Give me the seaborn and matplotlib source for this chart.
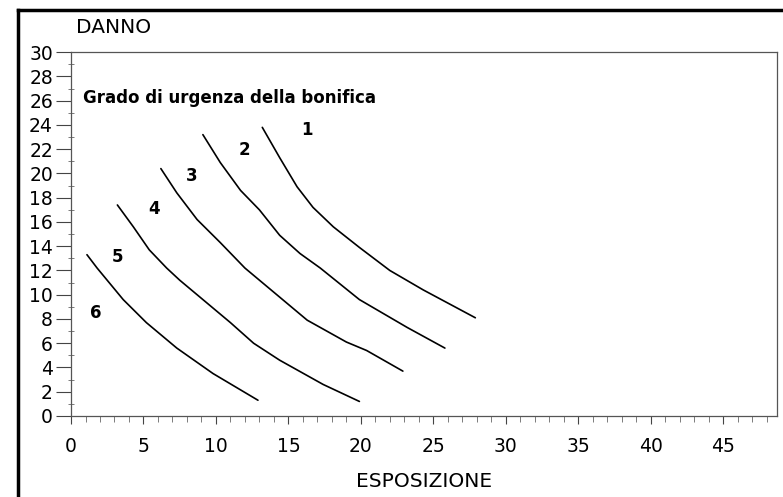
import pandas as pd
import matplotlib.pyplot as plt
import seaborn as sns
from matplotlib.ticker import MultipleLocator

# === Curve data ===
curve1_x = [13.2, 14.4, 15.6, 16.7, 18.1, 19.9, 22.0, 24.3, 27.9]
curve1_y = [23.8, 21.3, 18.9, 17.2, 15.6, 13.9, 12.0, 10.4, 8.1]
curve2_x = [9.1, 10.3, 11.7, 13.0, 14.4, 15.8, 17.2, 19.9, 23.2, 25.8]
curve2_y = [23.2, 20.9, 18.6, 17.0, 14.9, 13.4, 12.2, 9.6, 7.3, 5.6]
curve3_x = [6.2, 7.3, 8.7, 10.3, 12.0, 14.4, 16.3, 19.0, 20.4, 22.9]
curve3_y = [20.4, 18.4, 16.2, 14.3, 12.2, 9.8, 7.9, 6.1, 5.4, 3.7]
curve4_x = [3.2, 4.3, 5.4, 6.6, 7.5, 9.4, 11.0, 12.6, 14.4, 17.4, 19.9]
curve4_y = [17.4, 15.6, 13.7, 12.2, 11.2, 9.3, 7.7, 6.0, 4.6, 2.6, 1.2]
curve5_x = [1.1, 1.8, 3.6, 5.2, 7.3, 9.8, 12.9]
curve5_y = [13.3, 12.2, 9.6, 7.7, 5.6, 3.5, 1.3]

# region labels (urgency grade)
grade_labels = ["1", "2", "3", "4", "5", "6"]
grade_x = [16.3, 12.0, 8.3, 5.7, 3.2, 1.7]
grade_y = [23.6, 21.9, 19.8, 17.1, 13.1, 8.5]

x_ticks = [0, 5, 10, 15, 20, 25, 30, 35, 40, 45]
y_ticks = list(range(0, 31, 2))

# === Build long table ===
rows = []
for name, xs, ys in [("c1", curve1_x, curve1_y), ("c2", curve2_x, curve2_y),
                     ("c3", curve3_x, curve3_y), ("c4", curve4_x, curve4_y),
                     ("c5", curve5_x, curve5_y)]:
    for x, y in zip(xs, ys):
        rows.append({"curve": name, "esposizione": x, "danno": y})
df = pd.DataFrame(rows)

sns.set_style("ticks")
plt.rcParams["font.family"] = ["DejaVu Sans"]
plt.rcParams["text.color"] = "black"

fig = plt.figure(figsize=(7.83, 4.97), dpi=100)

# outer frame (left + top only, like the scanned page)
bg = fig.add_axes([0.023, -0.05, 1.0, 1.03])
bg.set_xticks([])
bg.set_yticks([])
bg.patch.set_alpha(0)
for s in ["right", "bottom"]:
    bg.spines[s].set_visible(False)
for s in ["left", "top"]:
    bg.spines[s].set_linewidth(2.5)
    bg.spines[s].set_color("black")

ax = fig.add_axes([0.0907, 0.163, 0.9013, 0.732])
ax.patch.set_alpha(0)
sns.lineplot(data=df, x="esposizione", y="danno", hue="curve", units="curve",
             estimator=None, sort=False, palette=["black"] * 5, legend=False,
             linewidth=1.2, ax=ax)
for line in ax.lines:
    line.set_solid_joinstyle("round")

for lab, x, y in zip(grade_labels, grade_x, grade_y):
    ax.text(x, y, lab, fontsize=12, fontweight="bold", ha="center", va="center")

ax.text(0.8, 26.2, "Grado di urgenza della bonifica", fontsize=12,
        fontweight="bold", ha="left", va="center")

ax.set_xlim(0, 48.7)
ax.set_ylim(0, 30)
ax.set_xticks(x_ticks)
ax.set_yticks(y_ticks)
ax.xaxis.set_minor_locator(MultipleLocator(1))
ax.yaxis.set_minor_locator(MultipleLocator(1))
ax.tick_params(axis="y", which="major", length=11, width=0.8, labelsize=13.5,
               pad=2, colors="#444444", labelcolor="black")
ax.tick_params(axis="y", which="minor", length=4, width=0.6, direction="inout",
               colors="#666666")
ax.tick_params(axis="x", which="major", length=6, width=0.8, labelsize=13.5,
               pad=9, colors="#444444", labelcolor="black")
ax.tick_params(axis="x", which="minor", length=4, width=0.6, colors="#666666")

for s in ["left", "right", "top", "bottom"]:
    ax.spines[s].set_visible(True)
    ax.spines[s].set_linewidth(0.9)
    ax.spines[s].set_color("#555555")

ax.set_xlabel("ESPOSIZIONE", fontsize=14.5, labelpad=12, color="black")
ax.set_ylabel("")
fig.text(0.097, 0.944, "DANNO", fontsize=14.5, ha="left", va="center")

fig.savefig("out.png", dpi=100)
